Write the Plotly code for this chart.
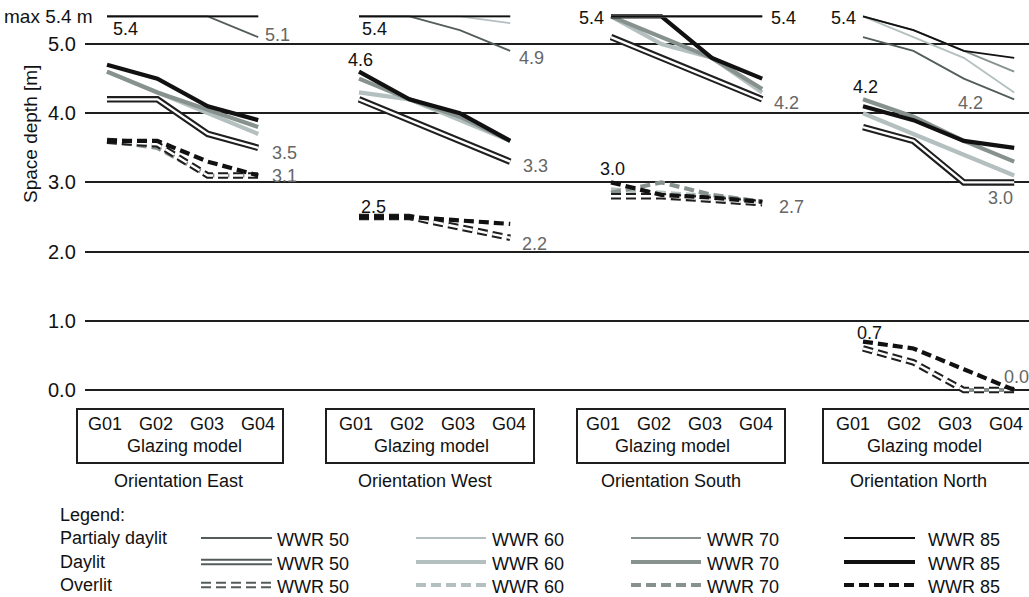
import plotly.graph_objects as go

# ---------------- data ----------------
GLAZING = ["G01", "G02", "G03", "G04"]
ORIENTATIONS = ["East", "West", "South", "North"]
WWR = [50, 60, 70, 85]
Y_TICKS = [0, 1, 2, 3, 4, 5]
Y_TICK_TEXT = ["0.0", "1.0", "2.0", "3.0", "4.0", "5.0"]
MAX_DEPTH = 5.4

# rows: WWR 50, 60, 70, 85 ; columns: G01..G04  (None = not visible)
EAST_PARTIAL = [[5.4, 5.4, 5.4, 5.1], [5.4, 5.4, 5.4, 5.4], [5.4, 5.4, 5.4, 5.4], [5.4, 5.4, 5.4, 5.4]]
EAST_DAYLIT = [[4.2, 4.2, 3.7, 3.5], [4.6, 4.3, 4.0, 3.7], [4.6, 4.3, 4.05, 3.8], [4.7, 4.5, 4.1, 3.9]]
EAST_OVERLIT = [[3.6, 3.55, 3.1, 3.1], [None, None, None, None], [3.6, 3.5, 3.1, 3.1], [3.6, 3.6, 3.3, 3.1]]

WEST_PARTIAL = [[5.4, 5.4, 5.2, 4.9], [5.4, 5.4, 5.4, 5.3], [5.4, 5.4, 5.4, 5.4], [5.4, 5.4, 5.4, 5.4]]
WEST_DAYLIT = [[4.2, 3.9, 3.6, 3.3], [4.3, 4.2, 3.9, 3.6], [4.5, 4.2, 3.95, 3.6], [4.6, 4.2, 4.0, 3.6]]
WEST_OVERLIT = [[2.5, 2.5, 2.35, 2.2], [None, None, None, None], [None, None, None, None], [2.5, 2.5, 2.45, 2.4]]

SOUTH_PARTIAL = [[5.4, 5.4, 5.4, 5.4], [5.4, 5.4, 5.4, 5.4], [5.4, 5.4, 5.4, 5.4], [5.4, 5.4, 5.4, 5.4]]
SOUTH_DAYLIT = [[5.1, 4.8, 4.5, 4.2], [5.4, 5.0, 4.8, 4.3], [5.4, 5.1, 4.8, 4.35], [5.4, 5.4, 4.8, 4.5]]
SOUTH_OVERLIT = [[2.8, 2.8, 2.75, 2.7], [2.9, 2.85, 2.8, 2.72], [2.85, 3.0, 2.82, 2.72], [3.0, 2.82, 2.78, 2.72]]

NORTH_PARTIAL = [[5.1, 4.9, 4.5, 4.2], [5.4, 5.1, 4.8, 4.3], [5.4, 5.2, 4.9, 4.6], [5.4, 5.2, 4.9, 4.8]]
NORTH_DAYLIT = [[3.8, 3.6, 3.0, 3.0], [4.0, 3.7, 3.4, 3.1], [4.2, 3.95, 3.6, 3.3], [4.1, 3.9, 3.6, 3.5]]
NORTH_OVERLIT = [[0.6, 0.4, 0.0, 0.0], [None, None, None, None], [None, None, 0.0, 0.0], [0.7, 0.6, 0.3, 0.0]]

DATA = {
    "East": {"Partialy daylit": EAST_PARTIAL, "Daylit": EAST_DAYLIT, "Overlit": EAST_OVERLIT},
    "West": {"Partialy daylit": WEST_PARTIAL, "Daylit": WEST_DAYLIT, "Overlit": WEST_OVERLIT},
    "South": {"Partialy daylit": SOUTH_PARTIAL, "Daylit": SOUTH_DAYLIT, "Overlit": SOUTH_OVERLIT},
    "North": {"Partialy daylit": NORTH_PARTIAL, "Daylit": NORTH_DAYLIT, "Overlit": NORTH_OVERLIT},
}

# value labels: (orientation, category, wwr, glazing index, colour, xanchor, xshift, yshift)
LABELS = [
    ("East", "Partialy daylit", 85, 0, "dark", "left", 4, -13),
    ("East", "Partialy daylit", 50, 3, "gray", "left", 5, 2),
    ("East", "Daylit", 50, 3, "gray", "left", 12, -5),
    ("East", "Overlit", 50, 3, "gray", "left", 12, -1),
    ("West", "Partialy daylit", 85, 0, "dark", "left", 1, -13),
    ("West", "Partialy daylit", 50, 3, "gray", "left", 7, -7),
    ("West", "Daylit", 85, 0, "dark", "center", 1, 12),
    ("West", "Daylit", 50, 3, "gray", "left", 11, -4),
    ("West", "Overlit", 85, 0, "dark", "left", 0, 10),
    ("West", "Overlit", 50, 3, "gray", "left", 10, -6),
    ("South", "Partialy daylit", 85, 0, "dark", "right", -5, -2),
    ("South", "Partialy daylit", 85, 3, "dark", "left", 7, -2),
    ("South", "Daylit", 50, 3, "gray", "left", 10, -4),
    ("South", "Overlit", 85, 0, "dark", "center", 1, 13),
    ("South", "Overlit", 50, 3, "gray", "left", 15, -4),
    ("North", "Partialy daylit", 85, 0, "dark", "right", -5, -2),
    ("North", "Partialy daylit", 50, 3, "gray", "right", -29, -4),
    ("North", "Daylit", 70, 0, "dark", "center", 2, 12),
    ("North", "Daylit", 50, 3, "gray", "center", -14, -16),
    ("North", "Overlit", 85, 0, "dark", "center", 6, 9),
    ("North", "Overlit", 85, 3, "gray", "left", -12, 13),
]

# ---------------- styling / layout (pixels) ----------------
W, H = 1029, 597
ML, MR, MT, MB = 85, 0, 0, 197
PW, PH = W - ML - MR, H - MT - MB
PANEL_STEP = 5
FONT = "Liberation Sans, Arial, Helvetica, sans-serif"
FS = 18
INK = "#111111"
LABEL_GRAY = "#666666"
COLORS = {50: "#545c5c", 60: "#b4bfbf", 70: "#87928f", 85: "#111111"}
OUTLINE = "#1e1e1e"
DASH = "10px,5px"
DRAW_ORDER = [60, 70, 50, 85]

BOX_X = [(77, 283), (326, 534), (577, 785), (823, 1040)]
GLAZ_TEXT_X0 = [105, 356, 603, 853]
GLAZ_TEXT_STEP = 51
MODEL_TEXT_X = [184, 431, 672, 924]
ORIENT_TEXT_X = [178, 425, 671, 918]


def px_x(px):
    return (px - ML) / PW


def px_y(py):
    return (MT + PH - py) / PH


fig = go.Figure()


def add_series(xs, ys, category, wwr):
    if all(v is None for v in ys):
        return
    if category == "Partialy daylit":
        fig.add_trace(go.Scatter(x=xs, y=ys, mode="lines", line=dict(color=COLORS[wwr], width=1.8),
                                 showlegend=False, hoverinfo="skip"))
    elif category == "Daylit":
        if wwr == 50:
            fig.add_trace(go.Scatter(x=xs, y=ys, mode="lines", line=dict(color=OUTLINE, width=6.5),
                                     showlegend=False, hoverinfo="skip"))
            fig.add_trace(go.Scatter(x=xs, y=ys, mode="lines", line=dict(color="white", width=2.4),
                                     showlegend=False, hoverinfo="skip"))
        else:
            fig.add_trace(go.Scatter(x=xs, y=ys, mode="lines", line=dict(color=COLORS[wwr], width=4.2),
                                     showlegend=False, hoverinfo="skip"))
    else:
        if wwr == 50:
            fig.add_trace(go.Scatter(x=xs, y=ys, mode="lines", line=dict(color=OUTLINE, width=6.5, dash=DASH),
                                     showlegend=False, hoverinfo="skip"))
            fig.add_trace(go.Scatter(x=xs, y=ys, mode="lines", line=dict(color="white", width=2.4, dash=DASH),
                                     showlegend=False, hoverinfo="skip"))
        else:
            fig.add_trace(go.Scatter(x=xs, y=ys, mode="lines", line=dict(color=COLORS[wwr], width=4.2, dash=DASH),
                                     showlegend=False, hoverinfo="skip"))


for p, orient in enumerate(ORIENTATIONS):
    xs = [p * PANEL_STEP + g for g in range(len(GLAZING))]
    for category in ["Overlit", "Daylit", "Partialy daylit"]:
        rows = DATA[orient][category]
        for wwr in DRAW_ORDER:
            add_series(xs, rows[WWR.index(wwr)], category, wwr)

annotations = []
for orient, category, wwr, gi, col, xa, xsh, ysh in LABELS:
    p = ORIENTATIONS.index(orient)
    val = DATA[orient][category][WWR.index(wwr)][gi]
    annotations.append(dict(x=p * PANEL_STEP + gi, y=val, xref="x", yref="y", text=f"{val:.1f}",
                            showarrow=False, xanchor=xa, yanchor="middle", xshift=xsh, yshift=ysh,
                            font=dict(family=FONT, size=FS, color=INK if col == "dark" else LABEL_GRAY)))

# y tick labels, max label and axis title
for tv, tt in zip(Y_TICKS, Y_TICK_TEXT):
    annotations.append(dict(x=0, y=tv, xref="paper", yref="y", text=tt, showarrow=False,
                            xanchor="right", yanchor="middle", xshift=-7,
                            font=dict(family=FONT, size=20, color=INK)))
annotations.append(dict(x=0, y=MAX_DEPTH, xref="paper", yref="y", text=f"max {MAX_DEPTH} m", showarrow=False,
                        xanchor="right", yanchor="middle", xshift=10, font=dict(family=FONT, size=19, color=INK)))
annotations.append(dict(x=px_x(30), y=px_y(134), xref="paper", yref="paper", text="Space depth [m]",
                        showarrow=False, textangle=-90, xanchor="center", yanchor="middle",
                        font=dict(family=FONT, size=19, color=INK)))

shapes = []
# glazing boxes and orientation titles
for p, orient in enumerate(ORIENTATIONS):
    bx0, bx1 = BOX_X[p]
    shapes.append(dict(type="rect", xref="paper", yref="paper", x0=px_x(bx0), x1=px_x(bx1),
                       y0=px_y(463), y1=px_y(409), line=dict(color=OUTLINE, width=2), fillcolor="white"))
    for g, name in enumerate(GLAZING):
        annotations.append(dict(x=px_x(GLAZ_TEXT_X0[p] + g * GLAZ_TEXT_STEP), y=px_y(424), xref="paper",
                                yref="paper", text=name, showarrow=False, xanchor="center", yanchor="middle",
                                font=dict(family=FONT, size=FS, color=INK)))
    annotations.append(dict(x=px_x(MODEL_TEXT_X[p]), y=px_y(446), xref="paper", yref="paper",
                            text="Glazing model", showarrow=False, xanchor="center", yanchor="middle",
                            font=dict(family=FONT, size=FS, color=INK)))
    annotations.append(dict(x=px_x(ORIENT_TEXT_X[p]), y=px_y(481), xref="paper", yref="paper",
                            text=f"Orientation {orient}", showarrow=False, xanchor="center", yanchor="middle",
                            font=dict(family=FONT, size=FS, color=INK)))

# legend
LEG_FONT = dict(family=FONT, size=FS, color=INK)
annotations.append(dict(x=px_x(58), y=px_y(515), xref="paper", yref="paper", text="Legend:", showarrow=False,
                        xanchor="left", yanchor="middle", font=LEG_FONT))
ROW_Y = {"Partialy daylit": 538, "Daylit": 562, "Overlit": 585}
COL_LINE = {50: (201, 272), 60: (416, 486), 70: (631, 701), 85: (844, 915)}
COL_TEXT = {50: 275, 60: 490, 70: 705, 85: 926}
for category, ry in ROW_Y.items():
    annotations.append(dict(x=px_x(58), y=px_y(ry), xref="paper", yref="paper", text=category, showarrow=False,
                            xanchor="left", yanchor="middle", font=LEG_FONT))
    for wwr in WWR:
        x0, x1 = COL_LINE[wwr]
        annotations.append(dict(x=px_x(COL_TEXT[wwr]), y=px_y(ry + 2), xref="paper", yref="paper",
                                text=f"WWR {wwr}", showarrow=False, xanchor="left", yanchor="middle",
                                font=LEG_FONT))
        seg = dict(type="line", xref="paper", yref="paper", x0=px_x(x0), x1=px_x(x1), y0=px_y(ry), y1=px_y(ry))
        if category == "Partialy daylit":
            shapes.append({**seg, "line": dict(color=COLORS[wwr], width=1.8)})
        elif category == "Daylit":
            if wwr == 50:
                shapes.append({**seg, "line": dict(color=COLORS[50], width=6.5)})
                shapes.append({**seg, "line": dict(color="white", width=2.4)})
            else:
                shapes.append({**seg, "line": dict(color=COLORS[wwr], width=4.2)})
        else:
            if wwr == 50:
                shapes.append({**seg, "line": dict(color=COLORS[50], width=6.5, dash=DASH)})
                shapes.append({**seg, "line": dict(color="white", width=2.4, dash=DASH)})
            else:
                shapes.append({**seg, "line": dict(color=COLORS[wwr], width=4.2, dash=DASH)})

x_lo = -22 / 50.4
x_hi = x_lo + PW / 50.4
y_per_px = 1 / 69.2
fig.update_layout(
    width=W, height=H,
    margin=dict(l=ML, r=MR, t=MT, b=MB),
    paper_bgcolor="white", plot_bgcolor="white",
    showlegend=False,
    annotations=annotations,
    shapes=shapes,
    xaxis=dict(range=[x_lo, x_hi], showgrid=False, zeroline=False, showticklabels=False, showline=False,
               fixedrange=True),
    yaxis=dict(range=[-10 * y_per_px, (PH - 10) * y_per_px], tickvals=Y_TICKS,
               showgrid=True, gridcolor="#1e1e1e", gridwidth=1.6, zeroline=False, showline=False,
               ticks="", showticklabels=False, fixedrange=True),
)

fig.write_html(
    "out.html",
    config={"displayModeBar": False},
    post_script="document.body.style.margin='0';document.body.style.overflow='hidden';",
)
